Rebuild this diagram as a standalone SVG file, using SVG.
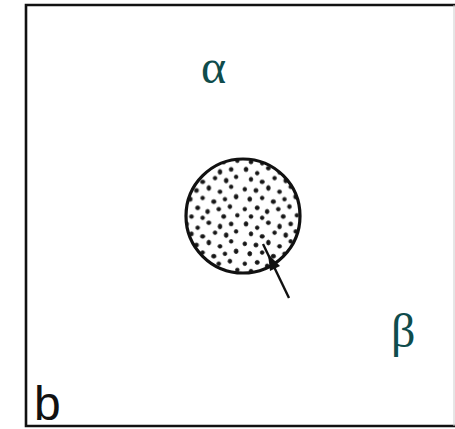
<svg xmlns="http://www.w3.org/2000/svg" width="455" height="429" viewBox="0 0 455 429">
<style>
.frame{fill:none;stroke:#111;stroke-width:2.6}
.greek{font-family:"Liberation Serif","DejaVu Serif",serif;font-size:48px;fill:#0f4c4c}
.lbl{font-family:"Liberation Sans",Arial,sans-serif;font-size:48px;fill:#111}
.dot{fill:#151515;stroke:#151515;stroke-width:0.6}
</style>
<defs>
<pattern id="stipple" patternUnits="userSpaceOnUse" x="0" y="0" width="48" height="44" patternTransform="translate(3,2) scale(1.24)">
<ellipse class="dot" cx="4" cy="3" rx="1.6" ry="1.8"/>
<ellipse class="dot" cx="13" cy="6" rx="1.5" ry="1.5"/>
<ellipse class="dot" cx="22" cy="2" rx="1.7" ry="1.5"/>
<ellipse class="dot" cx="31" cy="5" rx="1.5" ry="2"/>
<ellipse class="dot" cx="40" cy="3" rx="1.6" ry="1.6"/>
<ellipse class="dot" cx="8" cy="11" rx="1.5" ry="1.7"/>
<ellipse class="dot" cx="17" cy="13" rx="1.8" ry="1.5"/>
<ellipse class="dot" cx="27" cy="10" rx="1.5" ry="1.5"/>
<ellipse class="dot" cx="36" cy="12" rx="1.6" ry="1.9"/>
<ellipse class="dot" cx="44" cy="9" rx="1.5" ry="1.5"/>
<ellipse class="dot" cx="3" cy="19" rx="1.5" ry="1.6"/>
<ellipse class="dot" cx="12" cy="20" rx="1.7" ry="1.7"/>
<ellipse class="dot" cx="22" cy="18" rx="1.5" ry="2"/>
<ellipse class="dot" cx="31" cy="21" rx="1.6" ry="1.5"/>
<ellipse class="dot" cx="40" cy="17" rx="1.5" ry="1.5"/>
<ellipse class="dot" cx="7" cy="27" rx="1.6" ry="1.8"/>
<ellipse class="dot" cx="17" cy="26" rx="1.5" ry="1.5"/>
<ellipse class="dot" cx="26" cy="29" rx="1.8" ry="1.6"/>
<ellipse class="dot" cx="35" cy="27" rx="1.5" ry="1.5"/>
<ellipse class="dot" cx="44" cy="25" rx="1.6" ry="1.9"/>
<ellipse class="dot" cx="3" cy="35" rx="1.5" ry="1.5"/>
<ellipse class="dot" cx="13" cy="34" rx="1.7" ry="1.6"/>
<ellipse class="dot" cx="21" cy="37" rx="1.5" ry="1.8"/>
<ellipse class="dot" cx="30" cy="35" rx="1.6" ry="1.5"/>
<ellipse class="dot" cx="39" cy="33" rx="1.5" ry="1.7"/>
<ellipse class="dot" cx="45" cy="40" rx="1.5" ry="1.5"/>
<ellipse class="dot" cx="8" cy="41" rx="1.6" ry="1.5"/>
<ellipse class="dot" cx="17" cy="42" rx="1.5" ry="1.5"/>
<ellipse class="dot" cx="34" cy="41" rx="1.7" ry="1.6"/>
</pattern>
</defs>
<g id="frame">
<path class="frame" d="M455,5 H26 V426 H455"/>
<line x1="454" y1="5" x2="454" y2="426" stroke="#ccc" stroke-width="1"/>
</g>
<g id="cell">
<circle cx="243" cy="216" r="57" fill="url(#stipple)" stroke="#111" stroke-width="3.2"/>
</g>
<g id="connectors">
<path d="M289,298 L263,244" fill="none" stroke="#111" stroke-width="2.4"/>
<polygon points="268,254 280,266 270,271" fill="#111"/>
</g>
<g id="alpha"><text class="greek" x="201" y="83">α</text></g>
<g id="beta"><text class="greek" x="391" y="347">β</text></g>
<g id="label-b"><text class="lbl" x="34" y="420">b</text></g>
</svg>
